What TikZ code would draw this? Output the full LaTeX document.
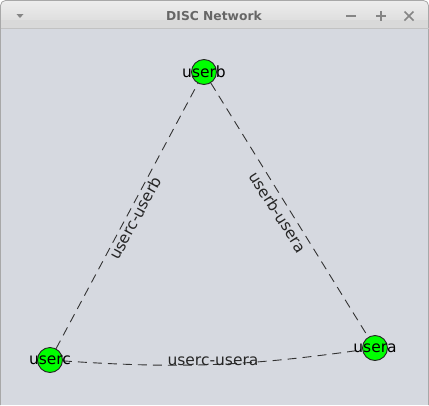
\documentclass[tikz,border=0pt]{standalone}
\usepackage{fontspec}
\setmainfont{DejaVu Sans}
\definecolor{bodybg}{HTML}{D6D9E0}
\definecolor{bartop}{HTML}{EDEDED}
\definecolor{barbot}{HTML}{D9D9D9}
\definecolor{frame}{HTML}{A8A8A8}
\definecolor{titlegray}{HTML}{666666}
\definecolor{edgecol}{HTML}{333333}
\tikzset{
  vertex/.style={circle, draw=black!85, line width=0.9pt, fill={rgb,255:red,0;green,255;blue,0}, minimum size=25pt, inner sep=0pt},
  vlabel/.style={font=\fontsize{15.5}{16}\selectfont, text=black, inner sep=0pt},
  elabel/.style={font=\fontsize{15.5}{16}\selectfont, text=black!85, inner sep=0pt},
  link/.style={draw=edgecol, line width=0.9pt, dash pattern=on 9pt off 6pt},
  winicon/.style={draw=titlegray!80, line width=1.6pt},
}
\begin{document}
\begin{tikzpicture}[x=1pt, y=-1pt]
\useasboundingbox (0,0) rectangle (429,405);
% window
\fill[bodybg] (0,28) rectangle (429,405);
\shade[top color=bartop, bottom color=barbot, rounded corners=5pt] (0.5,0.5) -- (428.5,0.5) -- (428.5,28) -- (0.5,28) -- cycle;
\fill[barbot] (0.5,20) rectangle (428.5,28);
\draw[frame, line width=0.8pt, rounded corners=5pt] (0.5,405) -- (0.5,0.5) -- (428.5,0.5) -- (428.5,405);
\draw[frame!70, line width=0.5pt] (0.5,28.5) -- (428.5,28.5);
\node[font=\bfseries\fontsize{12.3}{13}\selectfont, text=titlegray] (title) at (214,16) {DISC Network};
\fill[titlegray!80] (16.5,14) -- (23.5,14) -- (20,18) -- cycle;
\draw[winicon] (346,16) -- (356,16);
\draw[winicon] (376,16) -- (386,16) (381,11) -- (381,21);
\draw[winicon] (404.5,11.5) -- (413.5,20.5) (404.5,20.5) -- (413.5,11.5);
% nodes
\node[vertex] (b) at (204,72) {};
\node[vertex] (c) at (50,360) {};
\node[vertex] (a) at (375,348) {};
% edges
\draw[link] (c) -- (b);
\draw[link] (b) -- (a);
\draw[link] (c) to[bend right=6] (a);
% vertex labels
\node[vlabel] (lb) at (b) {userb};
\node[vlabel] (lc) at (c) {userc};
\node[vlabel] (la) at (a) {usera};
% edge labels
\node[elabel, rotate=61.5] (ecb) at (135,218) {userc-userb};
\node[elabel, rotate=-57.5] (eba) at (278,212) {userb-usera};
\node[elabel] (eca) at (213,361) {userc-usera};
\end{tikzpicture}
\end{document}
